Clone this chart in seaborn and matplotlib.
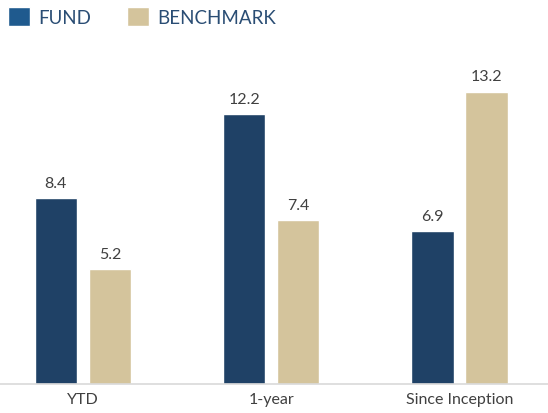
import pandas as pd
import seaborn as sns
import matplotlib.pyplot as plt
from matplotlib.patches import Patch

periods = ["YTD", "1-year", "Since Inception"]
fund = [8.4, 12.2, 6.9]
benchmark = [5.2, 7.4, 13.2]

df = pd.DataFrame({
    "period": periods * 2,
    "series": ["FUND"] * 3 + ["BENCHMARK"] * 3,
    "value": fund + benchmark,
})

sns.set_style("white")
plt.rcParams["font.family"] = ["Lato", "DejaVu Sans"]

fund_color = "#1f4166"
bench_color = "#d4c49c"

fig = plt.figure(figsize=(5.48, 4.14), dpi=100)
ax = fig.add_axes([0, 29 / 414, 1, 1 - 29 / 414 - 75 / 414])

sns.barplot(
    data=df, x="period", y="value", hue="series",
    palette=[fund_color, bench_color], saturation=1,
    width=0.573, gap=0.22, legend=False, ax=ax,
)

for cont in ax.containers:
    ax.bar_label(cont, fmt="%.1f", padding=6, fontsize=11.5, color="#404040")

ax.set_xlim(-0.44, 2.47)
ax.set_ylim(0, 14)
ax.set_xlabel("")
ax.set_ylabel("")
ax.set_yticks([])
for s in ["top", "right", "left"]:
    ax.spines[s].set_visible(False)
ax.spines["bottom"].set_color("#d9d9d9")
ax.spines["bottom"].set_linewidth(1.2)
ax.tick_params(axis="x", length=0, labelsize=11.5, labelcolor="#404040", pad=6)

handles = [
    Patch(facecolor="#1f5a8e", label="FUND"),
    Patch(facecolor=bench_color, label="BENCHMARK"),
]
fig.legend(
    handles=handles, loc="upper left", bbox_to_anchor=(0.0, 1.0),
    ncol=2, frameon=False, fontsize=13.5, labelcolor="#2a4d74",
    borderaxespad=0, borderpad=0.45,
    handlelength=1.15, handleheight=1.15, handletextpad=0.45, columnspacing=1.9,
)

fig.savefig("out.png", dpi=100)
